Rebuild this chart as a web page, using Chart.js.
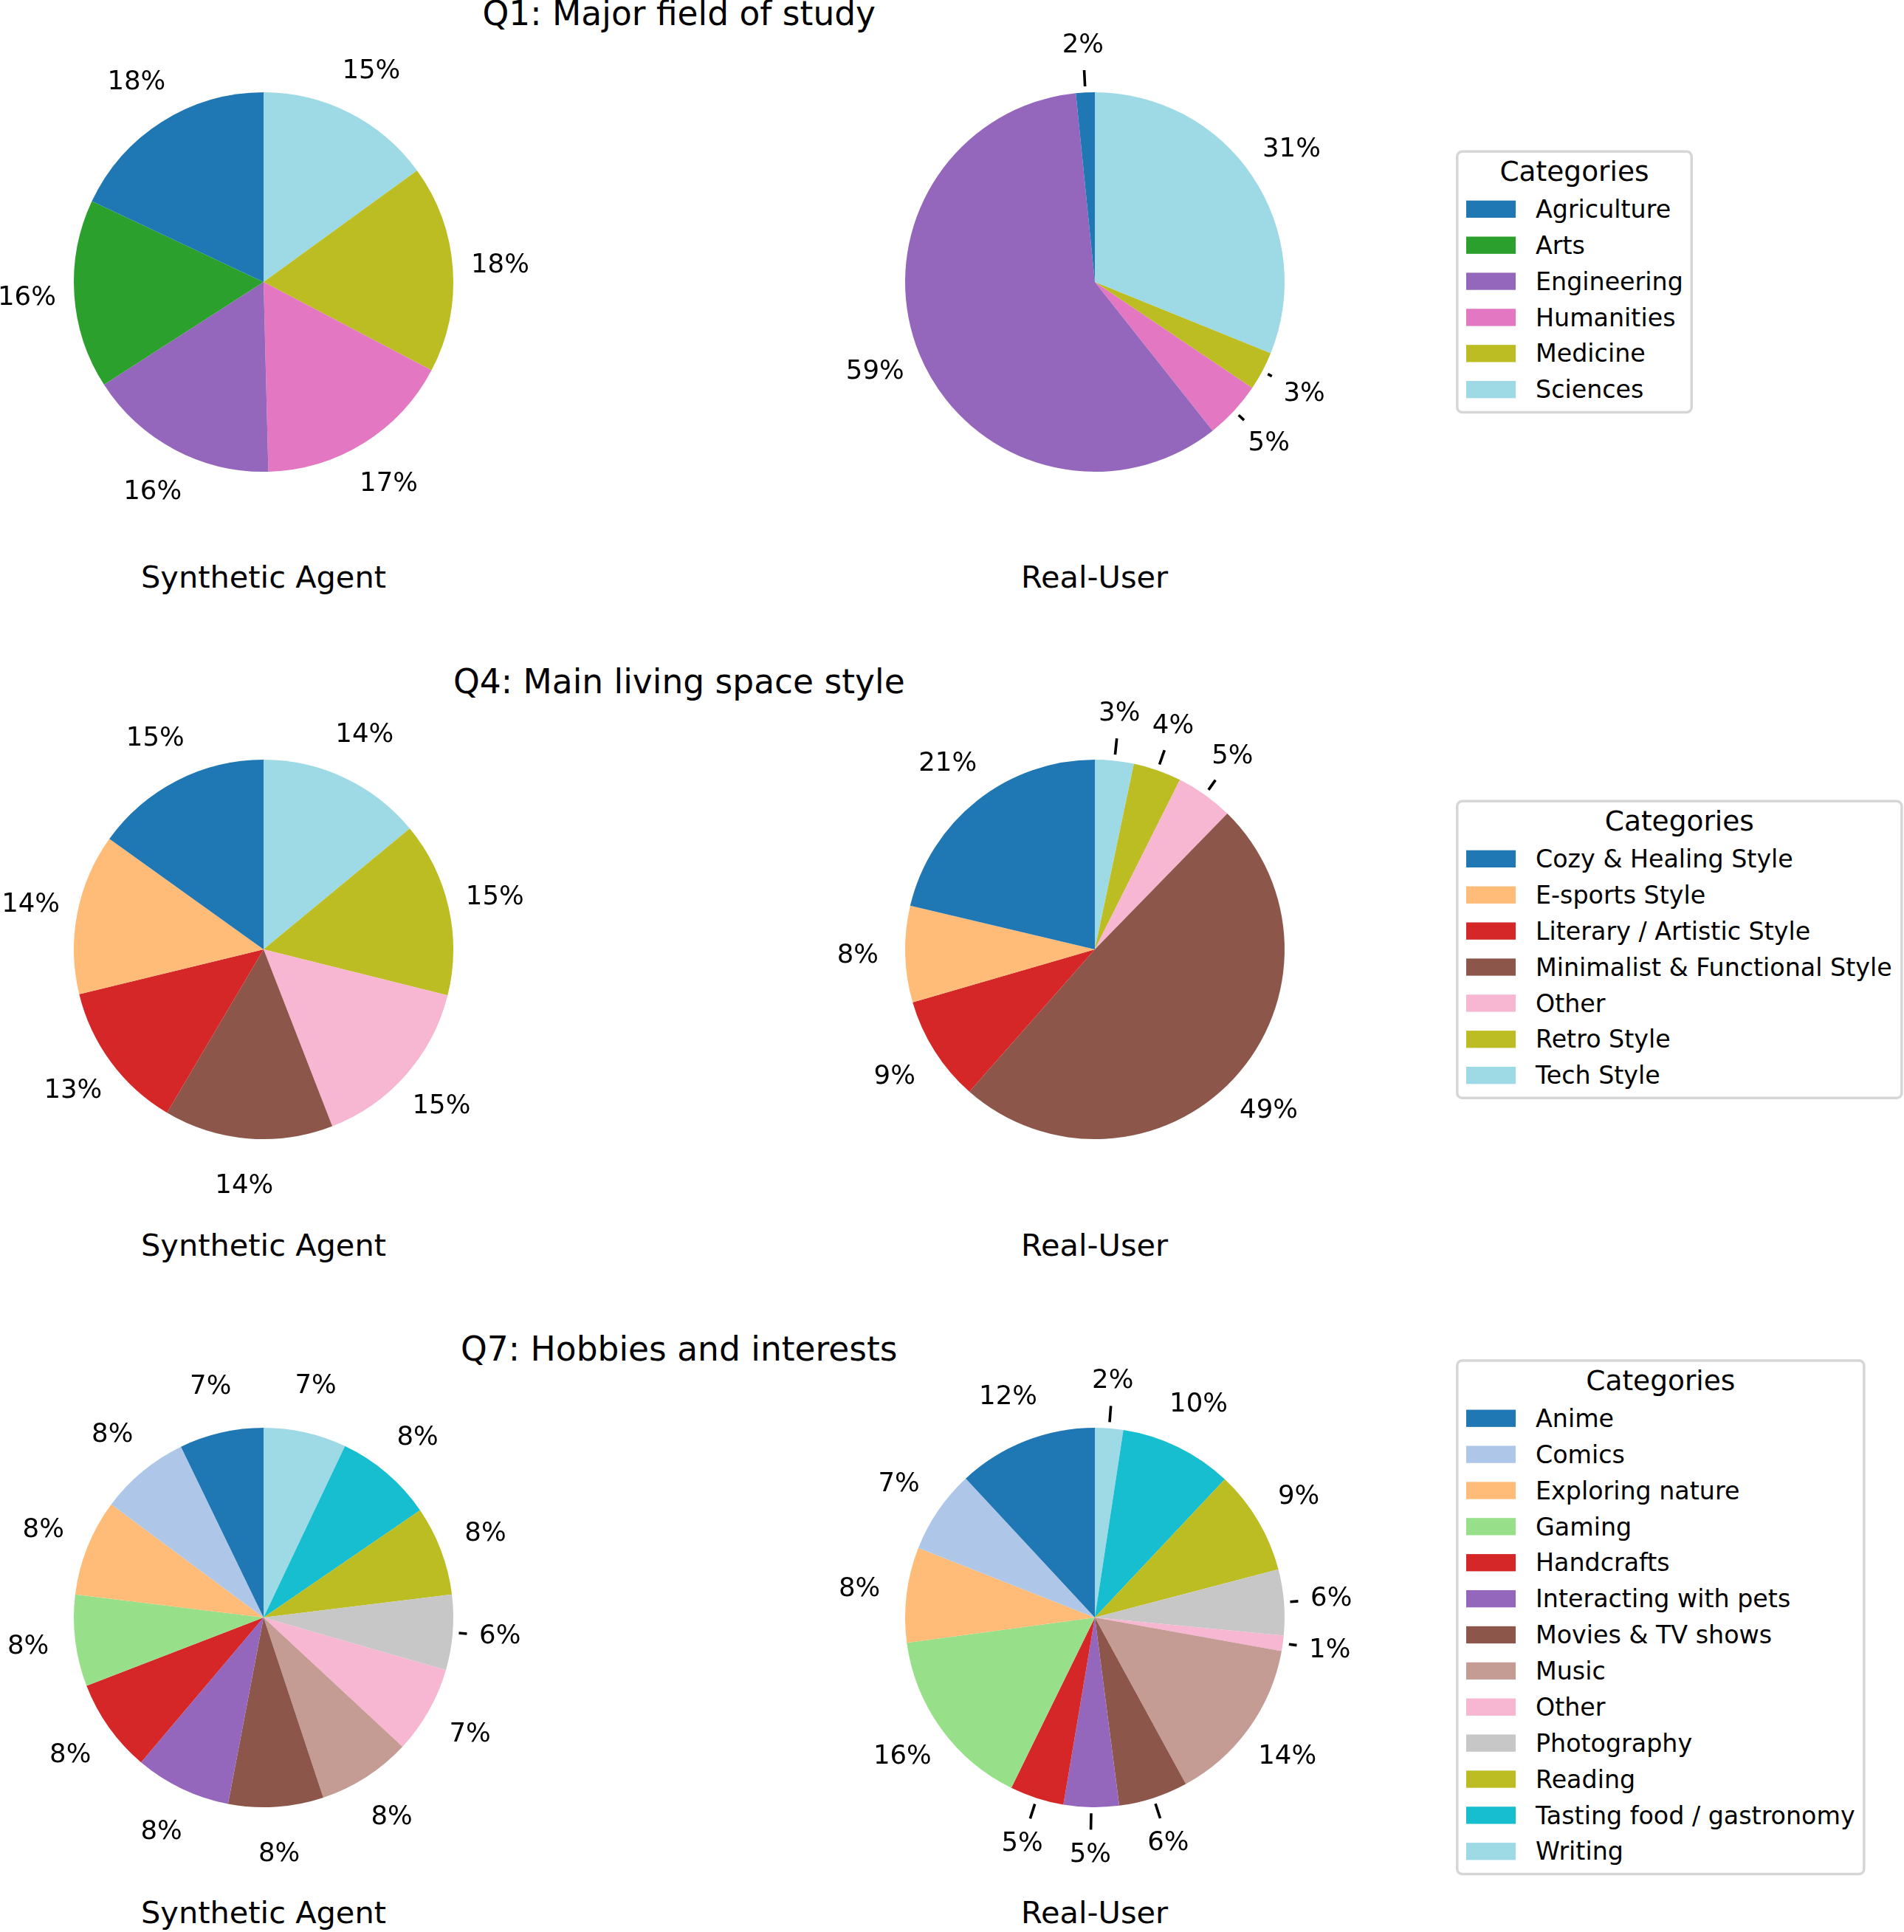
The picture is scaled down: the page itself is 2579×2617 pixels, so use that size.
<!DOCTYPE html>
<html>
<head>
<meta charset="utf-8">
<script src="https://cdn.jsdelivr.net/npm/chart.js@4.4.1/dist/chart.umd.min.js"></script>
<style>
html, body { margin: 0; padding: 0; background: #ffffff; }
body { width: 2579px; height: 2617px; position: relative; overflow: hidden; font-family: "DejaVu Sans", sans-serif; }
canvas { position: absolute; }
#overlay { position: absolute; left: 0; top: 0; pointer-events: none; }
</style>
</head>
<body>
<svg id="overlay" width="2579" height="2617" xmlns="http://www.w3.org/2000/svg"></svg>
<script>
// ---------------- DATA ----------------
const seriesNames = ['Synthetic Agent', 'Real-User'];
const legendTitle = 'Categories';

const q1Title = 'Q1: Major field of study';
const q1Categories = ['Agriculture', 'Arts', 'Engineering', 'Humanities', 'Medicine', 'Sciences'];
const q1Synthetic = [18.0, 16.1, 16.3, 16.9, 17.7, 15.0];
const q1Real = [1.6, 0, 59.0, 4.9, 3.3, 31.1];

const q4Title = 'Q4: Main living space style';
const q4Categories = ['Cozy & Healing Style', 'E-sports Style', 'Literary / Artistic Style',
  'Minimalist & Functional Style', 'Other', 'Retro Style', 'Tech Style'];
const q4Synthetic = [15.1, 13.7, 12.7, 14.4, 15.2, 14.9, 14.0];
const q4Real = [21.3, 8.2, 9.0, 49.2, 4.9, 4.1, 3.3];

const q7Title = 'Q7: Hobbies and interests';
const q7Categories = ['Anime', 'Comics', 'Exploring nature', 'Gaming', 'Handcrafts',
  'Interacting with pets', 'Movies & TV shows', 'Music', 'Other', 'Photography',
  'Reading', 'Tasting food / gastronomy', 'Writing'];
const q7Synthetic = [7.17, 7.66, 8.23, 7.80, 7.97, 8.17, 8.10, 7.98, 7.45, 6.41, 7.62, 8.38, 7.06];
const q7Real = [11.9, 7.1, 8.1, 15.6, 4.6, 4.7, 5.9, 14.2, 1.3, 5.6, 8.9, 9.6, 2.4];

// ---------------- STYLE (tab20 samples) ----------------
const q1Colors = ['#1f77b4', '#2ca02c', '#9467bd', '#e377c2', '#bcbd22', '#9edae5'];
const q4Colors = ['#1f77b4', '#ffbb78', '#d62728', '#8c564b', '#f7b6d2', '#bcbd22', '#9edae5'];
const q7Colors = ['#1f77b4', '#aec7e8', '#ffbb78', '#98df8a', '#d62728', '#9467bd', '#8c564b',
  '#c49c94', '#f7b6d2', '#c7c7c7', '#bcbd22', '#17becf', '#9edae5'];

// ---------------- LAYOUT ----------------
const FONT = '"DejaVu Sans"';
const pieCentersX = [357, 1482.6];
const rowCentersY = [381.8, 1286.3, 2190.8];
const PIE_RADIUS = 257;
const CANVAS_SIZE = 800;
const TITLE_SIZE = 45.5, XLABEL_SIZE = 41.5, PCT_SIZE = 35.5;
const LEG_TEXT = 33.3, LEG_TITLE = 37.5;

const panels = [
  { title: q1Title, cats: q1Categories, series: [q1Synthetic, q1Real], colors: q1Colors, legendWidth: 321 },
  { title: q4Title, cats: q4Categories, series: [q4Synthetic, q4Real], colors: q4Colors, legendWidth: 605.6 },
  { title: q7Title, cats: q7Categories, series: [q7Synthetic, q7Real], colors: q7Colors, legendWidth: 554.6 }
];

// ---------------- PERCENT LABEL PLUGIN ----------------
const pctLabelPlugin = {
  id: 'pctLabels',
  afterDatasetsDraw(chart, args, opts) {
    const ctx = chart.ctx;
    const meta = chart.getDatasetMeta(0);
    const data = chart.data.datasets[0].data;
    const total = data.reduce((a, b) => a + b, 0);
    ctx.save();
    ctx.font = opts.fontSize + 'px ' + FONT;
    ctx.fillStyle = '#000';
    ctx.strokeStyle = '#000';
    ctx.lineWidth = opts.lineWidth;
    ctx.lineCap = 'butt';
    ctx.textAlign = 'center';
    ctx.textBaseline = 'alphabetic';
    meta.data.forEach((arc, i) => {
      const v = data[i];
      if (!v) return;
      const p = arc.getProps(['x', 'y', 'startAngle', 'endAngle', 'outerRadius'], true);
      const mid = (p.startAngle + p.endAngle) / 2;
      const ux = Math.cos(mid), uy = Math.sin(mid);
      const R = p.outerRadius;
      const lr = R * opts.labelDist;
      const lx = p.x + ux * lr, ly = p.y + uy * lr;
      const pct = Math.round(v / total * 100);
      const txt = pct + '%';
      ctx.fillText(txt, lx, ly + opts.fontSize * 0.276);
      if (pct < opts.lineBelow) {
        const w = ctx.measureText(txt).width;
        const hw = w / 2 + opts.pad, hh = opts.fontSize * 0.968 / 2 + opts.pad;
        const tx = Math.abs(ux) > 1e-9 ? hw / Math.abs(ux) : Infinity;
        const ty = Math.abs(uy) > 1e-9 ? hh / Math.abs(uy) : Infinity;
        const r0 = lr - (Math.min(tx, ty) + opts.shrink);
        const r1 = R + opts.shrink;
        if (r0 > r1) {
          ctx.beginPath();
          ctx.moveTo(p.x + ux * r1, p.y + uy * r1);
          ctx.lineTo(p.x + ux * r0, p.y + uy * r0);
          ctx.stroke();
        }
      }
    });
    ctx.restore();
  }
};

// ---------------- BUILD PIES ----------------
panels.forEach((panel, row) => {
  panel.series.forEach((values, col) => {
    const cv = document.createElement('canvas');
    cv.width = CANVAS_SIZE; cv.height = CANVAS_SIZE;
    cv.style.width = CANVAS_SIZE + 'px'; cv.style.height = CANVAS_SIZE + 'px';
    cv.style.left = (pieCentersX[col] - CANVAS_SIZE / 2) + 'px';
    cv.style.top = (rowCentersY[row] - CANVAS_SIZE / 2) + 'px';
    document.body.appendChild(cv);
    // matplotlib draws counter-clockwise from 12 o'clock; Chart.js clockwise -> reverse order
    new Chart(cv, {
      type: 'pie',
      data: {
        labels: panel.cats.slice().reverse(),
        datasets: [{
          label: seriesNames[col],
          data: values.slice().reverse(),
          backgroundColor: panel.colors.slice().reverse(),
          borderWidth: 0
        }]
      },
      options: {
        responsive: false,
        animation: false,
        devicePixelRatio: 1,
        radius: PIE_RADIUS,
        layout: { padding: 0 },
        events: [],
        plugins: {
          legend: { display: false },
          tooltip: { enabled: false },
          title: { display: false },
          pctLabels: { fontSize: PCT_SIZE, labelDist: 1.25, lineBelow: 7, pad: 8.33, shrink: 8.33, lineWidth: 3.6 }
        }
      },
      plugins: [pctLabelPlugin]
    });
  });
});

// ---------------- TEXT / LEGENDS (SVG) ----------------
const NS = 'http://www.w3.org/2000/svg';
const svg = document.getElementById('overlay');
function el(name, attrs, text) {
  const e = document.createElementNS(NS, name);
  for (const k in attrs) e.setAttribute(k, attrs[k]);
  if (text !== undefined) e.textContent = text;
  svg.appendChild(e);
  return e;
}

panels.forEach((panel, row) => {
  const yc = rowCentersY[row];
  // title centred between the two pies
  el('text', { x: (pieCentersX[0] + pieCentersX[1]) / 2, y: yc - 347.5, 'text-anchor': 'middle',
    'font-family': 'DejaVu Sans', 'font-size': TITLE_SIZE, fill: '#000' }, panel.title);
  // x labels under pies
  seriesNames.forEach((name, col) => {
    el('text', { x: pieCentersX[col], y: yc + 414.2, 'text-anchor': 'middle',
      'font-family': 'DejaVu Sans', 'font-size': XLABEL_SIZE, fill: '#000' }, name);
  });
  // legend
  const n = panel.cats.length;
  const H = 112.3 + 48.88 * (n - 1);
  const T = yc - H / 2;
  const L = 1972, W = panel.legendWidth, lw = 3.5;
  el('rect', { x: L + lw / 2, y: T + lw / 2, width: W - lw, height: H - lw, rx: 6.7, ry: 6.7,
    fill: '#ffffff', stroke: '#d6d6d6', 'stroke-width': lw });
  el('text', { x: L + W / 2, y: T + 41.5, 'text-anchor': 'middle', 'font-family': 'DejaVu Sans',
    'font-size': LEG_TITLE, fill: '#000' }, legendTitle);
  panel.cats.forEach((c, k) => {
    const base = T + 91.5 + 48.88 * k;
    el('rect', { x: 1986, y: base - 23.3, width: 67, height: 23.3, fill: panel.colors[k] });
    el('text', { x: 2080, y: base, 'font-family': 'DejaVu Sans', 'font-size': LEG_TEXT, fill: '#000' }, c);
  });
});
</script>
</body>
</html>
